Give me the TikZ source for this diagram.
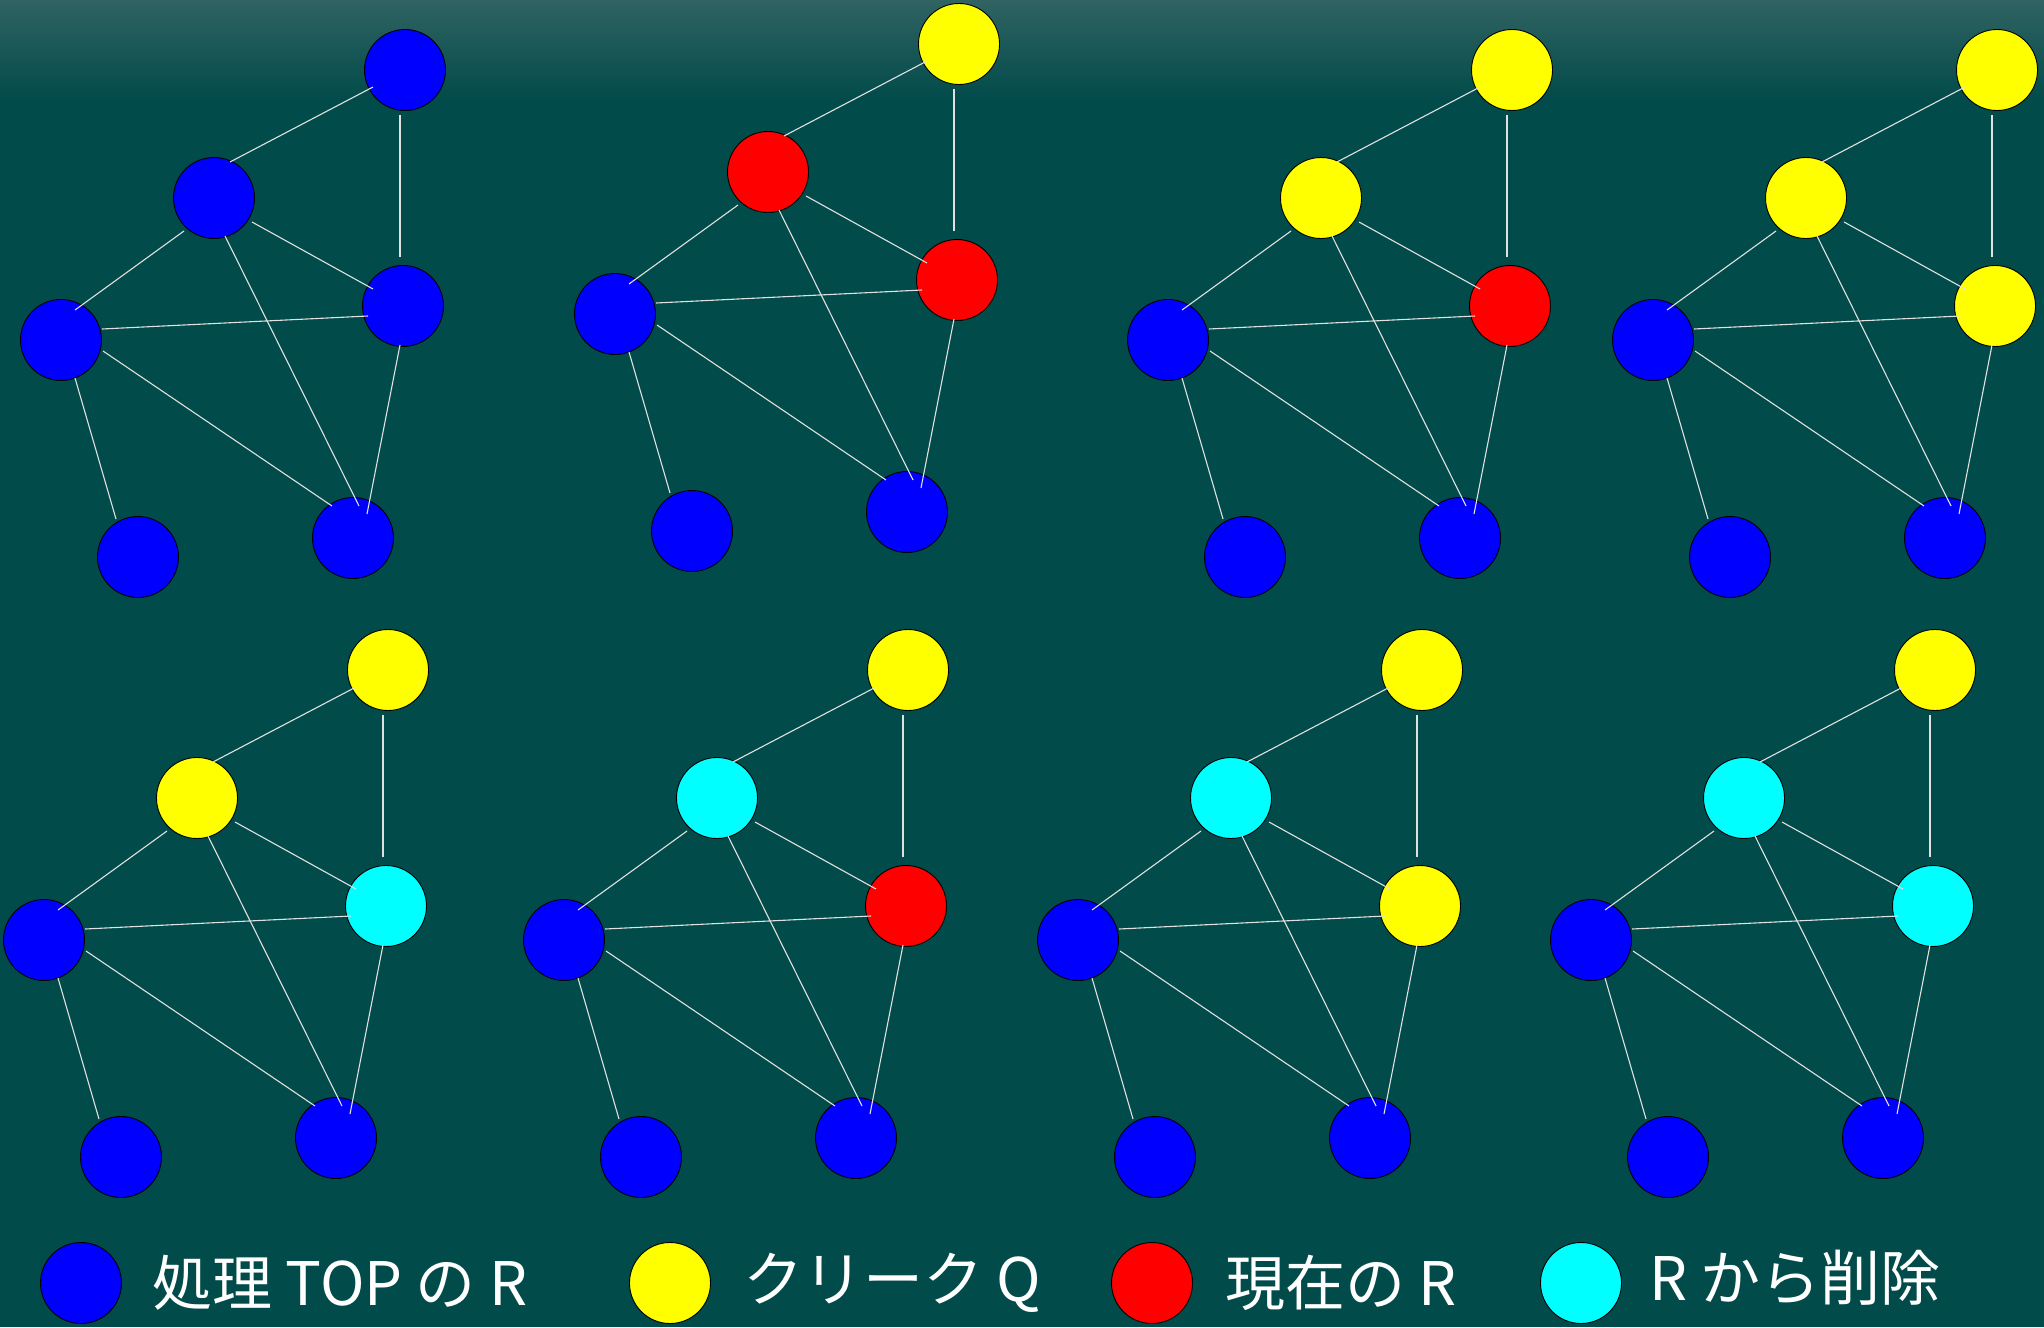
\documentclass[tikz,border=0pt]{standalone}
\usepackage{fontspec}
\newfontfamily\jfont{Noto Sans CJK JP}
\usetikzlibrary{positioning,calc}

\definecolor{bgteal}{RGB}{1,75,74}
\definecolor{bgtop}{RGB}{48,99,98}
\definecolor{edgegray}{RGB}{225,225,225}
\definecolor{procblue}{RGB}{0,0,255}
\definecolor{cliqyellow}{RGB}{255,255,0}
\definecolor{currred}{RGB}{255,0,0}
\definecolor{delcyan}{RGB}{0,255,255}

\tikzset{
  vtx/.style={circle, draw=black, line width=0.9pt, minimum size=81pt, inner sep=0pt},
  edge/.style={draw=edgegray, line width=1.1pt},
  legtext/.style={anchor=west, text=white, font=\jfont\fontsize{60}{60}\selectfont, inner sep=0pt}
}

\begin{document}
\begin{tikzpicture}[x=1pt, y=-1pt]
\useasboundingbox (0,0) rectangle (2044,1327);
% background
\fill[bgteal] (0,0) rectangle (2044,1327);
\shade[top color=bgtop, bottom color=bgteal] (0,0) rectangle (2044,100);

% eight snapshots of the same graph
\foreach \gx/\gy/\ca/\cb/\cc [count=\i] in {
    0/0/procblue/procblue/procblue,
    554/-26/cliqyellow/currred/currred,
    1107/0/cliqyellow/cliqyellow/currred,
    1592/0/cliqyellow/cliqyellow/cliqyellow,
    -17/600/cliqyellow/cliqyellow/delcyan,
    503/600/cliqyellow/delcyan/currred,
    1017/600/cliqyellow/delcyan/cliqyellow,
    1530/600/cliqyellow/delcyan/delcyan}{
  \begin{scope}[shift={(\gx,\gy)}]
    \node[vtx, fill=\ca] (g\i a) at (405,70) {};
    \node[vtx, fill=\cb] (g\i b) at (214,198) {};
    \node[vtx, fill=\cc] (g\i c) at (403,306) {};
    \node[vtx, fill=procblue] (g\i d) at (61,340) {};
    \node[vtx, fill=procblue] (g\i e) at (138,557) {};
    \node[vtx, fill=procblue] (g\i f) at (353,538) {};
    \draw[edge] ($(g\i a)+(-32,17)$) -- ($(g\i b)+(16,-36)$);
    \draw[edge] ($(g\i a)+(-5,45)$) -- ($(g\i c)+(-3,-49)$);
    \draw[edge] ($(g\i b)+(38,24)$) -- ($(g\i c)+(-30,-17)$);
    \draw[edge] ($(g\i b)+(-30,33)$) -- ($(g\i d)+(14,-30)$);
    \draw[edge] ($(g\i b)+(11,38)$) -- ($(g\i f)+(6,-32)$);
    \draw[edge] ($(g\i d)+(41,-11)$) -- ($(g\i c)+(-35,10)$);
    \draw[edge] ($(g\i d)+(42,11)$) -- ($(g\i f)+(-21,-32)$);
    \draw[edge] ($(g\i d)+(14,38)$) -- ($(g\i e)+(-22,-38)$);
    \draw[edge] ($(g\i c)+(-3,39)$) -- ($(g\i f)+(14,-24)$);
  \end{scope}
}

% legend
\node[vtx, fill=procblue] (legproc) at (81,1283) {};
\node[legtext] (legproctxt) at (152,1283) {処理 TOP の R};
\node[vtx, fill=cliqyellow] (legcliq) at (670,1283) {};
\node[legtext] (legcliqtxt) at (743,1283) {クリーク Q};
\node[vtx, fill=currred] (legcurr) at (1152,1283) {};
\node[legtext] (legcurrtxt) at (1225,1283) {現在の R};
\node[vtx, fill=delcyan] (legdel) at (1581,1283) {};
\node[legtext] (legdeltxt) at (1649,1278) {R から削除};
\end{tikzpicture}
\end{document}
